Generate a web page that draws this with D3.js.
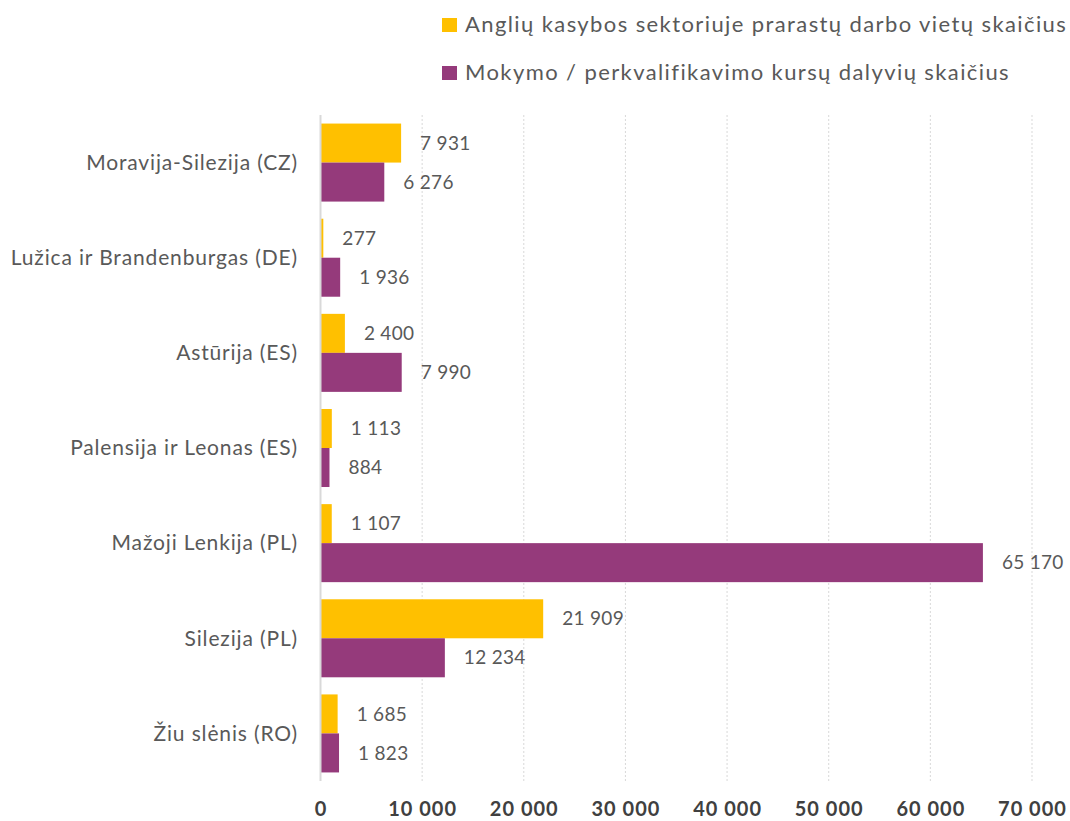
<!DOCTYPE html>
<html>
<head>
<meta charset="utf-8">
<script src="https://cdn.jsdelivr.net/npm/d3@7"></script>
<style>
  body { margin: 0; background: #fff; }
  svg { display: block; font-family: Lato, "Open Sans", sans-serif; }
</style>
</head>
<body>
<svg id="chart" width="1070" height="821"></svg>
<script>
"use strict";

const regions = [
    "Moravija-Silezija (CZ)",
    "Lužica ir Brandenburgas (DE)",
    "Astūrija (ES)",
    "Palensija ir Leonas (ES)",
    "Mažoji Lenkija (PL)",
    "Silezija (PL)",
    "Žiu slėnis (RO)"
];
const jobsLost = [7931, 277, 2400, 1113, 1107, 21909, 1685];
const trainees = [6276, 1936, 7990, 884, 65170, 12234, 1823];
const seriesNames = [
    "Anglių kasybos sektoriuje prarastų darbo vietų skaičius",
    "Mokymo / perkvalifikavimo kursų dalyvių skaičius"
];
const seriesColors = ["#FFC000", "#953A7B"];
const xTicks = [0, 10000, 20000, 30000, 40000, 50000, 60000, 70000];

const svg = d3.select("#chart");
const margin = {left: 320.5, right: 38, top: 115, bottom: 40};
const width = 1070, height = 821;

const fmt = v => d3.format(",")(v).replace(/,/g, " ");

const x = d3.scaleLinear()
    .domain([0, 70000])
    .range([margin.left, width - margin.right]);

const y = d3.scaleBand()
    .domain(regions)
    .range([margin.top, 781])
    .paddingInner(0.18)
    .paddingOuter(0.09);

const ySub = d3.scaleBand()
    .domain([0, 1])
    .range([0, y.bandwidth()]);

// grid
svg.append("g")
    .selectAll("line")
    .data(xTicks.slice(1))
    .join("line")
    .attr("x1", d => x(d)).attr("x2", d => x(d))
    .attr("y1", margin.top).attr("y2", 781)
    .attr("stroke", "#d9d9d9")
    .attr("stroke-width", 1)
    .attr("stroke-dasharray", "2,2");

// bars
const rows = regions.map((r, i) => ({region: r, values: [jobsLost[i], trainees[i]]}));
const groups = svg.append("g")
    .selectAll("g")
    .data(rows)
    .join("g")
    .attr("transform", d => `translate(0,${y(d.region)})`);

groups.selectAll("rect")
    .data(d => d.values.map((v, k) => ({v, k})))
    .join("rect")
    .attr("x", x(0))
    .attr("y", d => ySub(d.k))
    .attr("width", d => x(d.v) - x(0))
    .attr("height", ySub.bandwidth())
    .attr("fill", d => seriesColors[d.k]);

groups.selectAll("text")
    .data(d => d.values.map((v, k) => ({v, k})))
    .join("text")
    .attr("x", d => x(d.v) + 19)
    .attr("y", d => ySub(d.k) + ySub.bandwidth() / 2)
    .attr("dy", "0.35em")
    .attr("font-size", 19)
    .attr("letter-spacing", 0.3)
    .attr("fill", "#595959")
    .text(d => fmt(d.v));

// axis line at zero
svg.append("line")
    .attr("x1", x(0)).attr("x2", x(0))
    .attr("y1", margin.top).attr("y2", 781)
    .attr("stroke", "#d9d9d9")
    .attr("stroke-width", 2);

// category labels
svg.append("g")
    .selectAll("text")
    .data(regions)
    .join("text")
    .attr("x", 298)
    .attr("y", d => y(d) + y.bandwidth() / 2)
    .attr("dy", "0.35em")
    .attr("text-anchor", "end")
    .attr("font-size", 21)
    .attr("letter-spacing", 0.85)
    .attr("fill", "#595959")
    .text(d => d);

// x tick labels
svg.append("g")
    .selectAll("text")
    .data(xTicks)
    .join("text")
    .attr("x", d => x(d) + 0.5)
    .attr("y", 816)
    .attr("text-anchor", "middle")
    .attr("font-size", 20)
    .attr("letter-spacing", 1)
    .attr("font-weight", "bold")
    .attr("fill", "#404040")
    .text(d => fmt(d));

// legend
const legend = svg.append("g")
    .selectAll("g")
    .data(seriesNames)
    .join("g")
    .attr("transform", (d, i) => `translate(442,${18 + i * 48})`);
legend.append("rect")
    .attr("width", 15).attr("height", 14)
    .attr("fill", (d, i) => seriesColors[i]);
legend.append("text")
    .attr("x", 23)
    .attr("y", 14)
    .attr("font-size", 22)
    .attr("letter-spacing", 1.4)
    .attr("fill", "#595959")
    .text(d => d);
</script>
</body>
</html>
